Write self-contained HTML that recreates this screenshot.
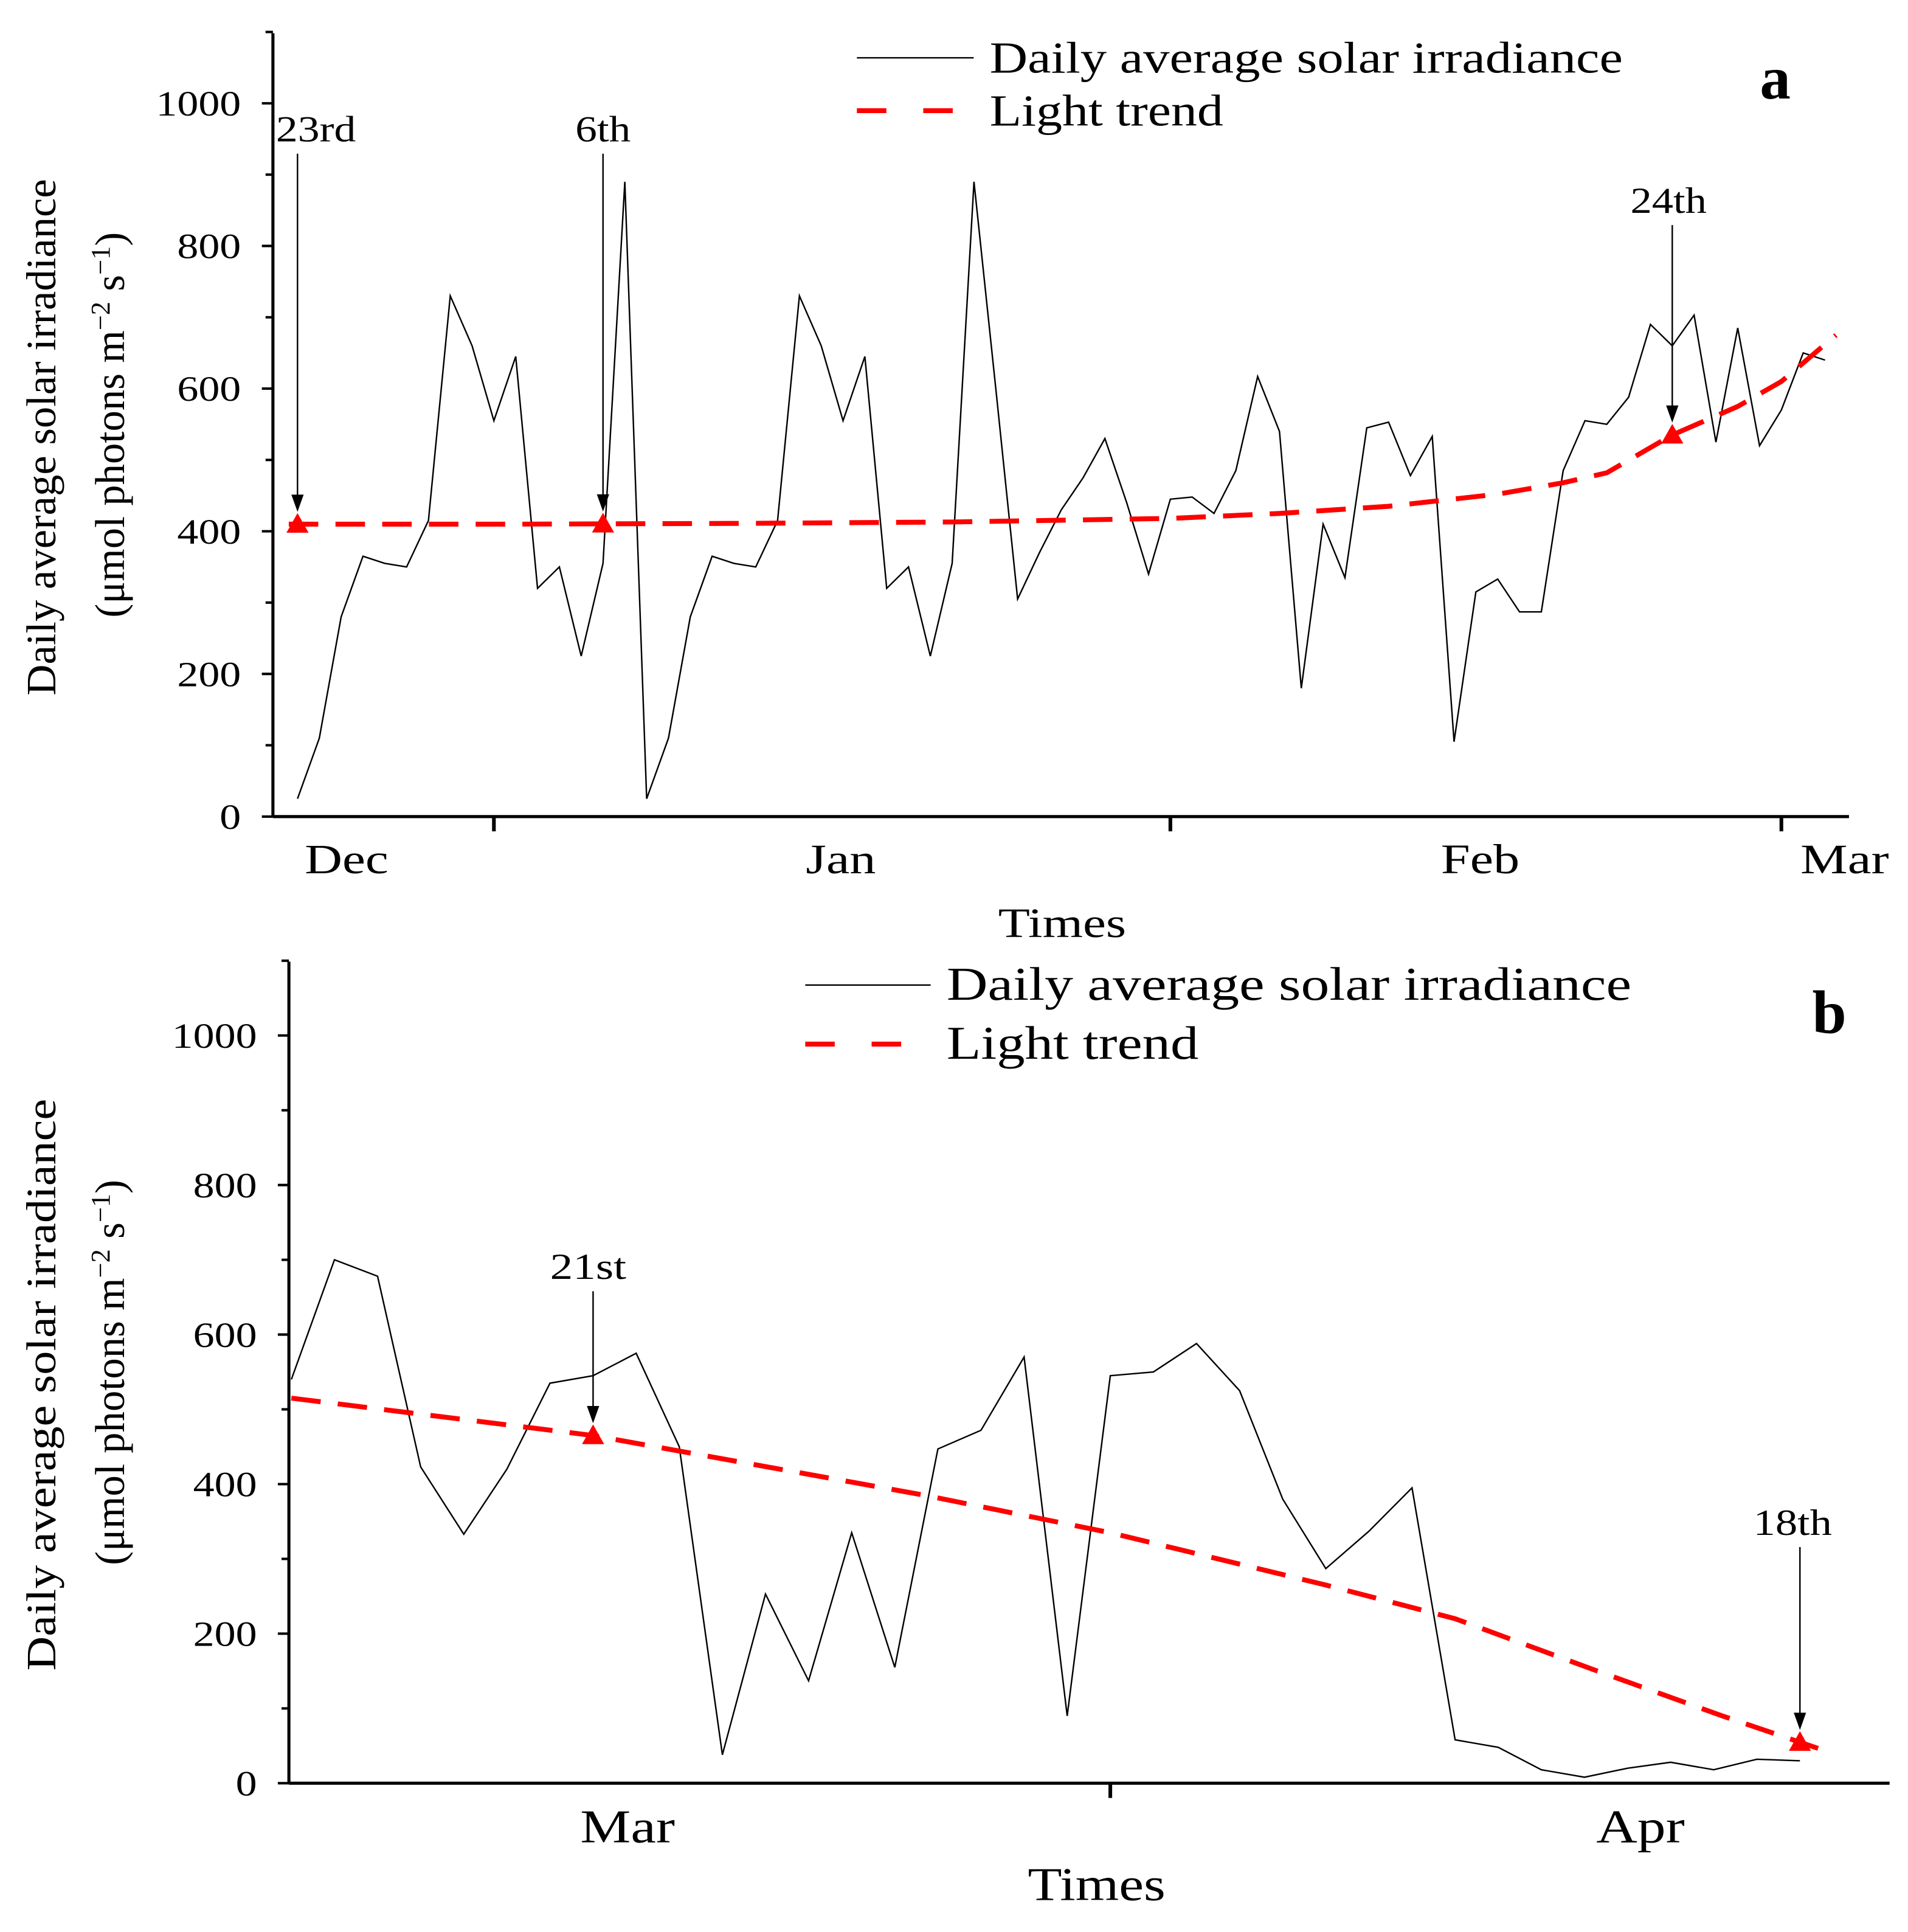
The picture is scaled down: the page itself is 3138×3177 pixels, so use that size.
<!DOCTYPE html>
<html><head><meta charset="utf-8"><style>
html,body{margin:0;padding:0;background:#fff}
svg{display:block}
text{font-family:"Liberation Serif",serif;fill:#000}
</style></head><body>
<svg id="chart" xmlns="http://www.w3.org/2000/svg" width="3138" height="3177" viewBox="0 0 1552 1571" preserveAspectRatio="none"></svg>
<script>
// Panel a data
const aValues = [25,110,280,365,355,350,415,730,660,555,645,320,350,225,355,890,25,110,280,365,355,350,415,730,660,555,645,320,350,225,355,890,600,305,370,430,475,530,440,340,445,448,425,485,617,540,180,410,335,545,553,478,533,105,315,333,287,287,485,555,550,588,690,660,703,525,685,520,570,650,640];
const aTrendDays = [-0.4,10,20,30,40,45,50,55,58,60,63,66,68,70.5];
const aTrendVals = [410,410,411,413,418,425,435,452,468,482,535,575,610,675];
const aMarkerDays = [0,14,63];
const aMarkerLabels = ["23rd","6th","24th"];
const aMonthTickDays = [9,40,68];
const aMonthLabels = ["Dec","Jan","Feb","Mar"];
const aMonthLabelDays = [2.25,24.9,54.2,70.9];
const yTicks = [0,200,400,600,800,1000];
// Panel b data
const bValues = [540,700,678,423,333,420,535,545,575,450,38,253,137,335,155,447,472,570,90,545,550,588,525,380,287,337,395,58,48,18,8,20,28,18,32,30];
const bTrendDays = [0,7,14.7,19,24,27,30.3,33.2,35.5];
const bTrendVals = [515,465,385,335,265,220,150,90,45];
const bMarkerDays = [7,35];
const bMarkerLabels = ["21st","18th"];
const bMonthTickDays = [19];
const bMonthLabels = ["Mar","Apr"];
const bMonthLabelDays = [7.8,31.3];

const NS="http://www.w3.org/2000/svg";
const svg=document.getElementById('chart');
function mk(tag,attrs,parent){const e=document.createElementNS(NS,tag);for(const k in attrs)e.setAttribute(k,attrs[k]);(parent||svg).appendChild(e);return e;}
function stretch(t,len){t.setAttribute('textLength',len);t.setAttribute('lengthAdjust','spacingAndGlyphs');}

function panel(cfg){
  const g=mk('g',{});
  
  
  const X=d=>cfg.x0+d*cfg.step;
  const Y=v=>cfg.yb-v*cfg.ys;
  const ya=mk('line',{x1:cfg.ax,y1:cfg.yt,x2:cfg.ax,y2:cfg.yb,stroke:'#000','stroke-width':2.5},g);
  
  
  const xa=mk('line',{x1:cfg.ax,y1:cfg.yb,x2:cfg.xr,y2:cfg.yb,stroke:'#000','stroke-width':2.5},g);
  
  
  for(let v=0;v<=1100;v+=100){
    const major=v%200===0;
    mk('line',{x1:cfg.ax-(major?9:6),y1:Y(v),x2:cfg.ax,y2:Y(v),stroke:'#000','stroke-width':2},g);
  }
  yTicks.forEach(v=>{
    const t=mk('text',{x:cfg.ax-26,y:Y(v)+10,'text-anchor':'end','font-size':29},g);
    t.textContent=v;
    stretch(t,String(v).length*17.3);
    
    
  });
  cfg.tickDays.forEach(d=>mk('line',{x1:X(d),y1:cfg.yb,x2:X(d),y2:cfg.yb+12,stroke:'#000','stroke-width':3},g));
  cfg.monthLabels.forEach((m,i)=>{
    const t=mk('text',{x:X(cfg.monthLabelDays[i]),y:cfg.monthY,'text-anchor':'middle','font-size':cfg.mfs},g);
    t.textContent=m;
    stretch(t,cfg.monthW[i]);
    
    
  });
  const xt=mk('text',{x:cfg.timesX,y:cfg.timesY,'text-anchor':'middle','font-size':cfg.mfs},g);
  xt.textContent='Times';
  stretch(xt,cfg.timesW);
  
  
  const cy=(cfg.yt+cfg.yb)/2+10;
  const t1=mk('text',{transform:`translate(${cfg.titleX},${cy}) rotate(-90)`,'text-anchor':'middle','font-size':34},g);
  t1.textContent='Daily average solar irradiance';
  stretch(t1,cfg.titleW);
  
  
  const t2=mk('text',{transform:`translate(${cfg.titleX+56},${cy-10}) rotate(-90)`,'text-anchor':'middle','font-size':34},g);
  t2.innerHTML='(μmol photons m<tspan dy="-12" font-size="22">−2</tspan><tspan dy="12"> s</tspan><tspan dy="-12" font-size="22">−1</tspan><tspan dy="12">)</tspan>';
  
  
  const p=mk('polyline',{points:cfg.values.map((v,i)=>X(i)+','+Y(v)).join(' '),fill:'none',stroke:'#000','stroke-width':1.2},g);
  
  
  const tr=mk('polyline',{points:cfg.trendDays.map((d,i)=>X(d)+','+Y(cfg.trendVals[i])).join(' '),fill:'none',stroke:'#f00','stroke-width':4,'stroke-dasharray':'24 14'},g);
  
  
  cfg.markerDays.forEach((d,i)=>{
    let v=cfg.trendVals[0];
    for(let k=0;k<cfg.trendDays.length-1;k++){if(d>=cfg.trendDays[k]&&d<=cfg.trendDays[k+1]){const f=(d-cfg.trendDays[k])/(cfg.trendDays[k+1]-cfg.trendDays[k]);v=cfg.trendVals[k]+f*(cfg.trendVals[k+1]-cfg.trendVals[k]);}}
    const mx=X(d),my=Y(v);
    const tri=mk('polygon',{points:`${mx-9},${my+7} ${mx+9},${my+7} ${mx},${my-9}`,fill:'#f00'},g);
    
    
    const top=cfg.arrowTops[i];
    mk('line',{x1:mx,y1:top,x2:mx,y2:my-20,stroke:'#000','stroke-width':1.2},g);
    mk('polygon',{points:`${mx-5},${my-24} ${mx+5},${my-24} ${mx},${my-10}`,fill:'#000'},g);
    const lt=mk('text',{x:mx+cfg.labelDx[i],y:top-10,'text-anchor':'middle','font-size':30},g);
    lt.textContent=cfg.markerLabels[i];
    stretch(lt,cfg.labelW[i]);
    
    
  });
  const L=cfg.leg;
  mk('line',{x1:L.x1,y1:L.y1,x2:L.x2,y2:L.y1,stroke:'#000','stroke-width':1.2},g);
  mk('line',{x1:L.x1,y1:L.y2,x2:L.x2,y2:L.y2,stroke:'#f00','stroke-width':4,'stroke-dasharray':'24 30'},g);
  const l1=mk('text',{x:L.tx,y:L.y1+12,'font-size':L.fs},g);
  l1.textContent='Daily average solar irradiance';
  stretch(l1,L.w1);
  
  
  const l2=mk('text',{x:L.tx,y:L.y2+12,'font-size':L.fs},g);
  l2.textContent='Light trend';
  stretch(l2,L.w2);
  
  
  const pl=mk('text',{x:cfg.letter[0],y:cfg.letter[1],'font-size':50,'font-weight':'bold','text-anchor':'middle'},g);
  pl.textContent=cfg.letterText;
  
  
}

panel({name:'panel-a',ax:222,yt:27,yb:664,xr:1504,ys:0.58,x0:242,step:17.75,
  values:aValues,trendDays:aTrendDays,trendVals:aTrendVals,markerDays:aMarkerDays,markerLabels:aMarkerLabels,
  arrowTops:[125,125,183],labelDx:[15,0,-3],labelW:[65,45,62],tickDays:aMonthTickDays,monthLabels:aMonthLabels,monthLabelDays:aMonthLabelDays,
  monthW:[68,57,64,72],monthY:710,mfs:34,timesX:864,timesY:762,timesW:104,titleX:45,titleW:420,
  leg:{x1:697,x2:792,y1:47,y2:90,tx:805,fs:36,w1:515,w2:190},letter:[1444,80],letterText:'a'});
panel({name:'panel-b',ax:235,yt:782,yb:1450,xr:1537,ys:0.608,x0:237,step:35.06,
  values:bValues,trendDays:bTrendDays,trendVals:bTrendVals,markerDays:bMarkerDays,markerLabels:bMarkerLabels,
  arrowTops:[1050,1258],labelDx:[-4,-6],labelW:[62,64],tickDays:bMonthTickDays,monthLabels:bMonthLabels,monthLabelDays:bMonthLabelDays,
  monthW:[77,72],monthY:1498,mfs:38,timesX:892,timesY:1545,timesW:112,titleX:45,titleW:465,
  leg:{x1:655,x2:757,y1:801,y2:849,tx:770,fs:38,w1:557,w2:205},letter:[1488,840],letterText:'b'});
</script>
</body></html>
